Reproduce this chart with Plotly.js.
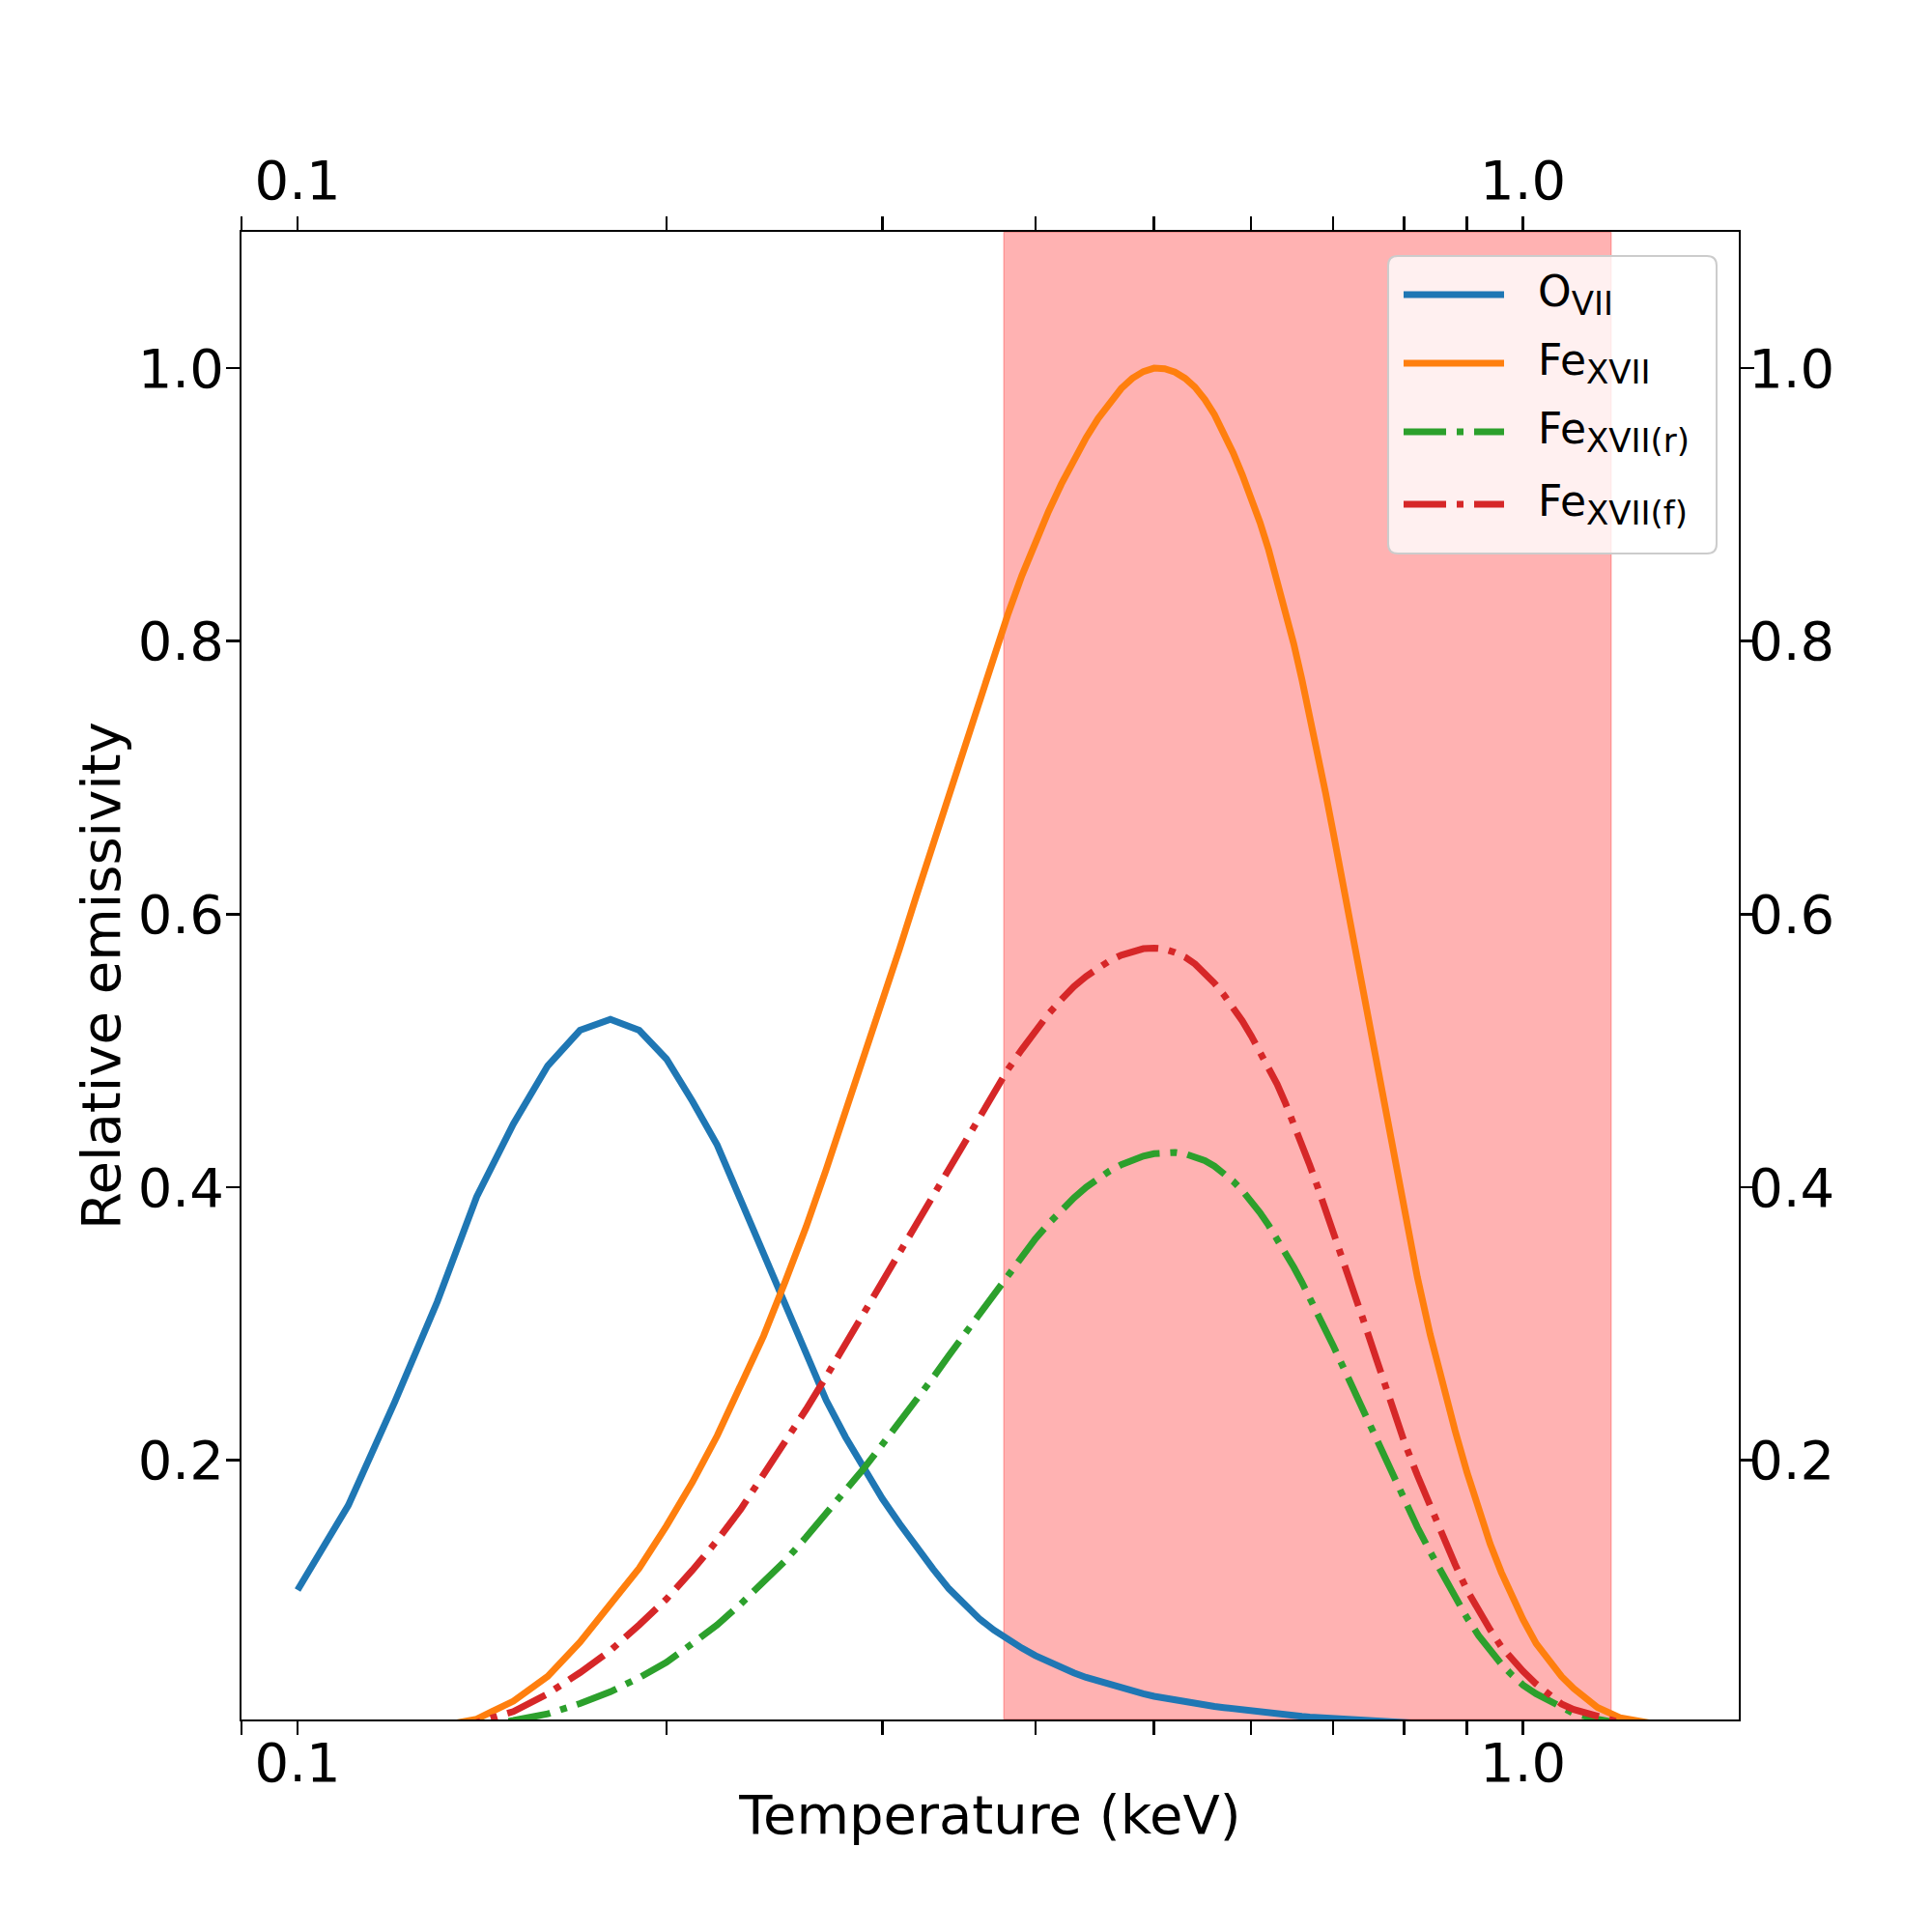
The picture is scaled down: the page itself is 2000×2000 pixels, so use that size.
<!DOCTYPE html>
<html>
<head>
<meta charset="utf-8">
<script src="https://cdn.plot.ly/plotly-3.0.1.min.js"></script>
<style>
html,body{margin:0;padding:0;background:#ffffff;}
#chart{width:2000px;height:2000px;}
</style>
</head>
<body>
<div id="chart"></div>
<script>
// ---------------- data ----------------
const temperature = [
  0.10,0.11,0.12,0.13,0.14,0.15,0.16,0.17,0.18,0.19,0.20,0.21,0.22,0.23,0.24,0.25,0.26,0.27,0.28,0.29,0.30,
  0.31,0.32,0.33,0.34,0.35,0.36,0.37,0.38,0.39,0.40,0.41,0.42,0.43,0.44,0.45,0.46,0.47,0.48,0.49,0.50,
  0.51,0.52,0.53,0.54,0.55,0.56,0.57,0.58,0.59,0.60,0.61,0.62,0.63,0.64,0.65,0.66,0.67,0.68,0.69,0.70,
  0.72,0.74,0.76,0.78,0.80,0.82,0.84,0.86,0.88,0.90,0.92,0.94,0.96,0.98,1.00,
  1.025,1.05,1.075,1.10,1.15,1.20,1.25,1.30];

const oVII = [
  0.105,0.167,0.2425,0.316,0.393,0.4465,0.489,0.515,0.523,0.515,0.494,0.463,0.431,0.390,0.3505,0.313,0.277,0.244,0.217,0.193,0.172,
  0.1535,0.136,0.1205,0.106,0.0945,0.084,0.0757,0.0685,0.0625,0.057,0.0523,0.048,0.0443,0.041,0.0383,0.0358,0.0334,0.0312,0.0291,0.0272,
  0.0257,0.0243,0.0230,0.0219,0.0208,0.0198,0.0189,0.0180,0.0172,0.0165,0.0157,0.0149,0.0142,0.0135,0.0129,0.0125,0.0120,0.0116,0.0112,0.0108,
  0.0101,0.0094,0.0088,0.0082,0.0077,0.0072,0.0068,0.0064,0.0060,0.0057,0.0054,0.0051,0.0048,0.0045,0.0043,
  0.0040,0.0037,0.0035,0.0032,0.0028,0.0025,0.0022,0.0019];

const feXVII = [
  0.0004,0.001,0.002,0.005,0.0105,0.0236,0.0418,0.0668,0.0943,0.121,0.152,0.184,0.218,0.254,0.291,0.331,0.371,0.413,0.455,0.496,0.536,
  0.575,0.614,0.651,0.687,0.722,0.756,0.789,0.820,0.848,0.873,0.895,0.915,0.933,0.949,0.963,0.975,0.985,0.9925,0.9975,1.000,
  0.9995,0.997,0.9925,0.986,0.977,0.966,0.953,0.938,0.922,0.905,0.887,0.867,0.845,0.822,0.798,0.772,0.745,0.717,0.689,0.660,
  0.602,0.544,0.487,0.432,0.381,0.334,0.292,0.255,0.222,0.1914,0.163,0.139,0.118,0.099,0.0835,
  0.0658,0.0531,0.0417,0.0329,0.019,0.0115,0.0085,0.006];

const feXVIIr = [
  0.0002,0.0005,0.001,0.0025,0.005,0.0095,0.0143,0.0219,0.0305,0.0408,0.0521,0.0658,0.0795,0.0949,0.1104,0.1265,0.1437,0.1608,0.178,0.1944,0.2116,
  0.228,0.2442,0.2605,0.2768,0.2922,0.3076,0.3225,0.337,0.350,0.3623,0.3733,0.3833,0.3922,0.400,0.4065,0.412,0.4165,0.420,0.4228,0.4246,
  0.4255,0.4255,0.4245,0.4225,0.4195,0.4155,0.4105,0.4045,0.3977,0.390,0.3815,0.3722,0.3625,0.3522,0.3415,0.3305,0.319,0.3075,0.2958,0.284,
  0.2605,0.2375,0.214,0.1915,0.1706,0.151,0.133,0.116,0.1002,0.0847,0.0717,0.0605,0.0508,0.0425,0.0354,
  0.0290,0.0238,0.0187,0.0147,0.0105,0.007,0.0045,0.003];

const feXVIIf = [
  0.0005,0.001,0.002,0.004,0.008,0.016,0.029,0.0445,0.0607,0.0795,0.0984,0.1196,0.1413,0.1643,0.1893,0.2143,0.2373,0.2613,0.2853,0.3076,0.330,
  0.3515,0.3728,0.3932,0.4133,0.4327,0.4516,0.4695,0.4865,0.501,0.5145,0.527,0.5375,0.547,0.5545,0.561,0.566,0.570,0.573,0.5748,0.5752,
  0.5745,0.572,0.5685,0.5635,0.557,0.5495,0.541,0.532,0.522,0.511,0.4995,0.488,0.4755,0.4615,0.447,0.4315,0.416,0.400,0.384,0.368,
  0.336,0.304,0.273,0.243,0.2136,0.189,0.166,0.144,0.124,0.105,0.0895,0.076,0.0635,0.0535,0.0455,
  0.0362,0.028,0.0215,0.0175,0.012,0.008,0.005,0.003];

const seriesBase = ['O', 'Fe', 'Fe', 'Fe'];
const seriesSub  = ['VII', 'XVII', 'XVII(r)', 'XVII(f)'];

const shadedBand = [0.377, 1.18];          // temperature interval of the shaded region
const xRangeValues = [0.09, 1.5];
const yRangeValues = [0.0102, 1.0998];

const xTickVals = [0.1, 1.0];
const xTickText = ['0.1', '1.0'];
const xMinorTickVals = [0.09, 0.2, 0.3, 0.4, 0.5, 0.6, 0.7, 0.8, 0.9];
const yTickVals = [0.2, 0.4, 0.6, 0.8, 1.0];
const yTickText = ['0.2', '0.4', '0.6', '0.8', '1.0'];

const xTitle = 'Temperature (keV)';
const yTitle = 'Relative emissivity';

// ---------------- styling / layout ----------------
const W = 2000, H = 2000;
const M = {l: 250, r: 200, t: 240, b: 220};
const PW = W - M.l - M.r, PH = H - M.t - M.b;
function px2x(px){ return (px - M.l) / PW; }
function py2y(py){ return (H - M.b - py) / PH; }

const FONT = 'DejaVu Sans, Verdana, sans-serif';
const colors = ['#1f77b4', '#ff7f0e', '#2ca02c', '#d62728'];
const DASHDOT = '44px,11px,7px,11px';
const dashes = ['solid', 'solid', DASHDOT, DASHDOT];
const LW = 7;

const seriesValues = [oVII, feXVII, feXVIIr, feXVIIf];
const plainNames = seriesBase.map((b, i) => b + '<sub>' + seriesSub[i] + '</sub>');
const legendNames = seriesBase.map((b, i) => b + '<sub><span style="font-size:34px">' + seriesSub[i] + '</span></sub>');

const traces = seriesValues.map((vals, i) => ({
  type: 'scatter',
  mode: 'lines',
  x: temperature,
  y: vals,
  name: plainNames[i],
  showlegend: false,
  hoverinfo: 'skip',
  line: {color: colors[i], width: LW, dash: dashes[i], shape: 'linear'},
  xaxis: i === 3 ? 'x2' : 'x',
  yaxis: i === 3 ? 'y2' : 'y'
}));

const logRange = [Math.log10(xRangeValues[0]) - 1e-5, Math.log10(xRangeValues[1])];

const commonX = {
  type: 'log',
  range: logRange,
  autorange: false,
  tickmode: 'array',
  tickvals: xTickVals,
  ticktext: xTickText,
  ticks: 'outside',
  ticklen: 14,
  tickwidth: 2.5,
  tickcolor: '#000',
  minor: {tickmode: 'array', tickvals: xMinorTickVals, ticks: 'outside', ticklen: 14, tickwidth: 2.5, tickcolor: '#000', showgrid: false},
  showline: true,
  linecolor: '#000',
  linewidth: 2,
  showgrid: false,
  zeroline: false,
  tickfont: {family: FONT, size: 56, color: '#000'}
};
const commonY = {
  range: yRangeValues,
  autorange: false,
  tickmode: 'array',
  tickvals: yTickVals,
  ticktext: yTickText,
  ticks: 'outside',
  ticklen: 14,
  tickwidth: 2.5,
  tickcolor: '#000',
  showline: true,
  linecolor: '#000',
  linewidth: 2,
  showgrid: false,
  zeroline: false,
  tickfont: {family: FONT, size: 56, color: '#000'}
};

// legend geometry (pixels in the 2000x2000 page)
const LG = {x0: 1437, x1: 1777, y0: 265, y1: 573, r: 10,
            lineX0: 1453, lineX1: 1557, textX: 1590,
            rows: [305, 376, 447, 522]};

function roundedRectPath(x0p, y0p, x1p, y1p, r){
  const X0 = px2x(x0p), X1 = px2x(x1p), YT = py2y(y0p), YB = py2y(y1p);
  const rx = r / PW, ry = r / PH;
  return `M${X0+rx},${YT} L${X1-rx},${YT} Q${X1},${YT} ${X1},${YT-ry} L${X1},${YB+ry} Q${X1},${YB} ${X1-rx},${YB} ` +
         `L${X0+rx},${YB} Q${X0},${YB} ${X0},${YB+ry} L${X0},${YT-ry} Q${X0},${YT} ${X0+rx},${YT} Z`;
}

const shapes = [
  {type: 'rect', xref: 'x', yref: 'paper', x0: shadedBand[0], x1: shadedBand[1], y0: 0, y1: 1,
   fillcolor: 'rgba(255,0,0,0.3)', line: {color: 'rgba(255,0,0,0.25)', width: 1.5}, layer: 'below'},
  {type: 'path', xref: 'paper', yref: 'paper', path: roundedRectPath(LG.x0, LG.y0, LG.x1, LG.y1, LG.r),
   fillcolor: 'rgba(255,255,255,0.8)', line: {color: '#cccccc', width: 2}, layer: 'above'}
];
const annotations = [];
LG.rows.forEach((ry, i) => {
  shapes.push({type: 'line', xref: 'paper', yref: 'paper',
    x0: px2x(LG.lineX0), x1: px2x(LG.lineX1), y0: py2y(ry), y1: py2y(ry),
    line: {color: colors[i], width: LW, dash: dashes[i]}, layer: 'above'});
  annotations.push({xref: 'paper', yref: 'paper', x: px2x(LG.textX), y: py2y(ry),
    xanchor: 'left', yanchor: 'middle', showarrow: false, text: legendNames[i],
    font: {family: FONT, size: 44, color: '#000'}, yshift: 0});
});

const layout = {
  width: W, height: H,
  margin: {l: M.l, r: M.r, t: M.t, b: M.b, pad: 0},
  paper_bgcolor: '#ffffff',
  plot_bgcolor: '#ffffff',
  font: {family: FONT, color: '#000'},
  showlegend: false,
  xaxis: Object.assign({}, commonX, {side: 'bottom', anchor: 'y', ticklabelstandoff: -19,
    title: {text: xTitle, font: {family: FONT, size: 56, color: '#000'}, standoff: 3}}),
  xaxis2: Object.assign({}, commonX, {side: 'top', overlaying: 'x', anchor: 'y2', ticklabelstandoff: -4}),
  yaxis: Object.assign({}, commonY, {side: 'left', anchor: 'x', ticklabelstandoff: -9,
    title: {text: yTitle, font: {family: FONT, size: 56, color: '#000'}, standoff: 0}}),
  yaxis2: Object.assign({}, commonY, {side: 'right', overlaying: 'y', anchor: 'x2', ticklabelstandoff: -17}),
  shapes: shapes,
  annotations: annotations
};

Plotly.newPlot('chart', traces, layout, {displayModeBar: false, staticPlot: true});
</script>
</body>
</html>
